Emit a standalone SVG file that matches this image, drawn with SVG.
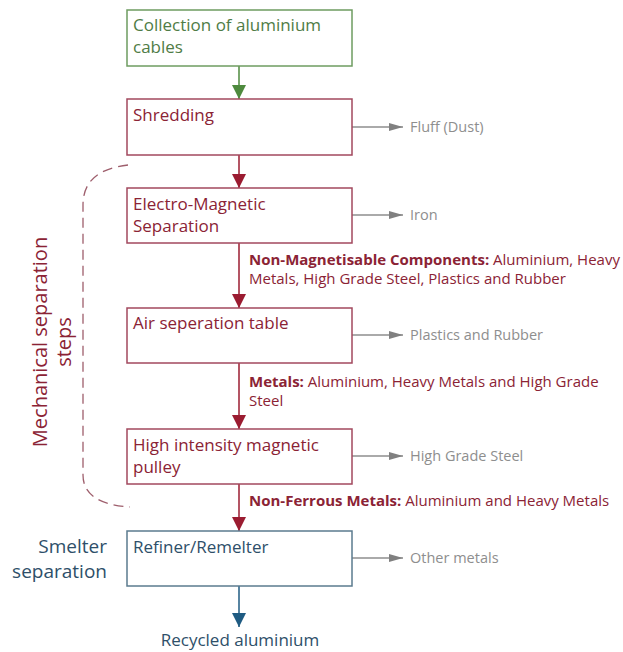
<svg xmlns="http://www.w3.org/2000/svg" width="623" height="652" viewBox="0 0 623 652">
<defs>
<style>
text{font-family:"Open Sans","Noto Sans","Liberation Sans",sans-serif}
.box{fill:#fff;stroke-width:1.5}
.g{stroke:#6E9C60}
.r{stroke:#A2485E}
.b{stroke:#5B7B8E}
.bt{font-size:17px}
.gt{fill:#4F7C46}
.rt{fill:#8B2335}
.btx{fill:#2E4F69}
.side{font-size:14.5px;fill:#8E8E8E}
.lab{font-size:15px;fill:#8B2335}
.lab .bd{font-weight:bold}
.sl{stroke:#8E8E8E;stroke-width:1.5;fill:none}
.ml{stroke-width:1.5;fill:none}
</style>
<marker id="ahg" markerWidth="14" markerHeight="14" refX="14" refY="7" orient="auto" markerUnits="userSpaceOnUse"><path d="M0,0 L14,7 L0,14 Z" fill="#4E8A3E"/></marker>
<marker id="ahr" markerWidth="14" markerHeight="14" refX="14" refY="7" orient="auto" markerUnits="userSpaceOnUse"><path d="M0,0 L14,7 L0,14 Z" fill="#9B1C31"/></marker>
<marker id="ahb" markerWidth="14" markerHeight="14" refX="14" refY="7" orient="auto" markerUnits="userSpaceOnUse"><path d="M0,0 L14,7 L0,14 Z" fill="#1F5B82"/></marker>
<marker id="ahs" markerWidth="14" markerHeight="8" refX="14" refY="4" orient="auto" markerUnits="userSpaceOnUse"><path d="M0,0 L14,4 L0,8 Z" fill="#808080"/></marker>
</defs>
<rect width="623" height="652" fill="#fff"/>

<g id="connectors">
<line class="ml" x1="239" y1="66" x2="239" y2="99" stroke="#4E8A3E" marker-end="url(#ahg)"/>
<line class="ml" x1="239" y1="155" x2="239" y2="188" stroke="#9B1C31" marker-end="url(#ahr)"/>
<line class="ml" x1="239" y1="243" x2="239" y2="308" stroke="#9B1C31" marker-end="url(#ahr)"/>
<line class="ml" x1="239" y1="363" x2="239" y2="429" stroke="#9B1C31" marker-end="url(#ahr)"/>
<line class="ml" x1="239" y1="484" x2="239" y2="531" stroke="#9B1C31" marker-end="url(#ahr)"/>
<line class="ml" x1="239" y1="586" x2="239" y2="627" stroke="#1F5B82" marker-end="url(#ahb)"/>
<line class="sl" x1="352" y1="127" x2="403" y2="127" marker-end="url(#ahs)"/>
<line class="sl" x1="352" y1="215" x2="403" y2="215" marker-end="url(#ahs)"/>
<line class="sl" x1="352" y1="335" x2="403" y2="335" marker-end="url(#ahs)"/>
<line class="sl" x1="352" y1="456" x2="403" y2="456" marker-end="url(#ahs)"/>
<line class="sl" x1="352" y1="558" x2="403" y2="558" marker-end="url(#ahs)"/>
<path d="M128,165 C100,168 83,180 83,205 L83,475 C83,495 100,505 130,507" fill="none" stroke="#9E5E6C" stroke-width="1.3" stroke-dasharray="10,6"/>
</g>

<g id="n1">
<rect class="box g" x="127" y="10" width="225" height="56"/>
<text class="bt gt" x="133" y="31">Collection of aluminium</text>
<text class="bt gt" x="133" y="53">cables</text>
</g>
<g id="n2">
<rect class="box r" x="127" y="99" width="225" height="56"/>
<text class="bt rt" x="133" y="121">Shredding</text>
</g>
<g id="n3">
<rect class="box r" x="127" y="188" width="225" height="55"/>
<text class="bt rt" x="133" y="210">Electro-Magnetic</text>
<text class="bt rt" x="133" y="232">Separation</text>
</g>
<g id="n4">
<rect class="box r" x="127" y="308" width="225" height="55"/>
<text class="bt rt" x="133" y="329">Air seperation table</text>
</g>
<g id="n5">
<rect class="box r" x="127" y="429" width="225" height="55"/>
<text class="bt rt" x="133" y="451">High intensity magnetic</text>
<text class="bt rt" x="133" y="473">pulley</text>
</g>
<g id="n6">
<rect class="box b" x="127" y="531" width="225" height="55"/>
<text class="bt btx" x="133" y="553">Refiner/Remelter</text>
</g>
<g id="n7">
<text class="btx" x="240" y="646" font-size="17" text-anchor="middle">Recycled aluminium</text>
</g>

<g id="side-outputs">
<text class="side" x="410" y="132">Fluff (Dust)</text>
<text class="side" x="410" y="220">Iron</text>
<text class="side" x="410" y="340">Plastics and Rubber</text>
<text class="side" x="410" y="461">High Grade Steel</text>
<text class="side" x="410" y="563">Other metals</text>
</g>

<g id="flow-labels">
<text class="lab" x="249" y="265"><tspan class="bd">Non-Magnetisable Components:</tspan> Aluminium, Heavy</text>
<text class="lab" x="249" y="284">Metals, High Grade Steel, Plastics and Rubber</text>
<text class="lab" x="249" y="387"><tspan class="bd">Metals:</tspan> Aluminium, Heavy Metals and High Grade</text>
<text class="lab" x="249" y="406">Steel</text>
<text class="lab" x="249" y="506"><tspan class="bd">Non-Ferrous Metals:</tspan> Aluminium and Heavy Metals</text>
</g>

<g id="group-labels">
<text fill="#8B2335" font-size="20" text-anchor="middle" transform="translate(47,342) rotate(-90)">Mechanical separation</text>
<text fill="#8B2335" font-size="20" text-anchor="middle" transform="translate(71,342) rotate(-90)">steps</text>
<text fill="#2E4F69" font-size="19" text-anchor="end" x="107" y="553">Smelter</text>
<text fill="#2E4F69" font-size="19" text-anchor="end" x="107" y="578">separation</text>
</g>
</svg>
